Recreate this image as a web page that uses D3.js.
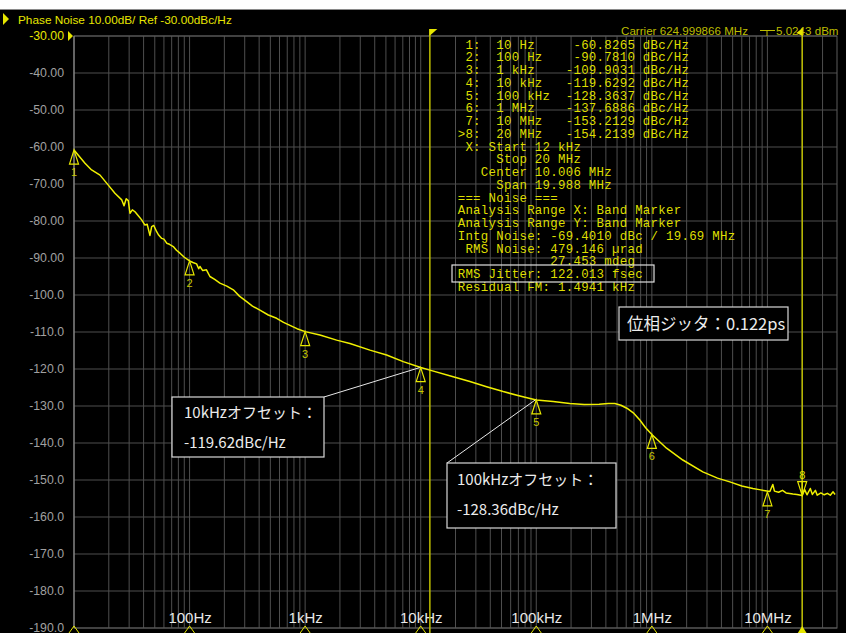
<!DOCTYPE html>
<html>
<head>
<meta charset="utf-8">
<script src="https://cdn.jsdelivr.net/npm/d3@7"></script>
<style>
  html, body { margin: 0; padding: 0; background: #000; overflow: hidden; }
  svg { display: block; }
  .mono { font-family: "Liberation Mono", "DejaVu Sans Mono", monospace; font-size: 12.4px; letter-spacing: 0.28px; white-space: pre; }
  .ui { font-family: "Liberation Sans", Arial, sans-serif; }
  .jp { font-family: "Noto Sans CJK JP", sans-serif; }
</style>
</head>
<body>
<div id="chart"></div>
<script>
// ---- trace (offset Hz, dBc/Hz) ----
const traceFreq = [
  10, 12.45, 14.2, 16.8, 19.8, 22.6, 25.9, 27.1, 28.3, 29.5, 30.5, 32, 33.7, 36, 38.5,
  41.1, 43, 45.4, 47, 49, 51.9, 54, 57.4, 60, 63.4, 67, 72.3, 77, 82.6, 90,
  100, 107, 115, 120, 123, 130, 140, 150, 165, 183, 210, 239, 270, 312, 350, 406,
  480, 567, 650, 739, 850, 1000, 1343, 1873, 2441, 3636, 5070, 7058, 10000, 12012,
  19100, 26650, 37150, 51700, 72100, 100000, 140000, 195000, 260000, 350000, 420000,
  478600, 540000, 608000, 700000, 787000, 880000, 1000000, 1340000, 1854000, 2760000,
  3700000, 4730000, 6000000, 7480000, 8500000, 9890000, 10500000, 11130000, 11500000,
  12500000, 13500000, 14500000, 16600000, 18000000, 20000000, 21000000, 22000000,
  23500000, 24500000, 26000000, 27000000, 29000000, 31000000, 33000000, 35000000,
  37000000, 38500000
];
const traceDb = [
  -60.8, -64.4, -66.2, -67.6, -70.3, -72.5, -74.3, -75.9, -74.0, -74.5, -77.9, -77.0, -77.5, -78.6, -79.7,
  -81.1, -80.9, -83.9, -81.5, -81.2, -82.9, -83.8, -84.7, -84.9, -86.0, -86.3, -86.9, -87.9, -88.7, -89.8,
  -90.8, -91.2, -91.6, -92.9, -92.3, -93.4, -93.2, -95.0, -95.8, -96.8, -97.6, -98.6, -100.3, -101.8, -103.0, -104.1,
  -105.4, -106.3, -107.4, -108.2, -109.1, -109.9, -110.8, -112.2, -113.1, -114.9, -116.2, -118.0, -119.6, -120.3,
  -122.1, -123.4, -124.8, -126.1, -127.3, -128.4, -128.8, -129.3, -129.6, -129.5, -129.3,
  -129.3, -129.8, -130.6, -132.0, -133.8, -135.8, -137.7, -141.4, -144.6, -147.8,
  -149.5, -150.5, -151.6, -152.3, -152.6, -153.0, -153.1, -151.2, -153.0,
  -153.3, -152.8, -153.5, -153.8, -153.9, -154.2, -152.6, -154.0,
  -152.3, -153.9, -152.8, -154.1, -153.5, -154.0, -153.6, -154.1,
  -153.2, -153.9
];

// ---- markers ----
const markerIds = ["1", "2", "3", "4", "5", "6", "7", "8"];
const markerFreq = [10, 100, 1e3, 1e4, 1e5, 1e6, 1e7, 2e7];
const markerDb = [-60.8265, -90.7810, -109.9031, -119.6292, -128.3637, -137.6886, -153.2129, -154.2139];
const markerFreqText = ["10 Hz", "100 Hz", "1 kHz", "10 kHz", "100 kHz", "1 MHz", "10 MHz", "20 MHz"];
const markerDbText = ["-60.8265", "-90.7810", "-109.9031", "-119.6292", "-128.3637", "-137.6886", "-153.2129", "-154.2139"];
const activeMarker = "8";
const bandStart = 12e3;
const bandStop = 20e6;

// ---- axes ----
const yTicks = [-30, -40, -50, -60, -70, -80, -90, -100, -110, -120, -130, -140, -150, -160, -170, -180, -190];
const yTickLabels = ["-30.00", "-40.00", "-50.00", "-60.00", "-70.00", "-80.00", "-90.00", "-100.0", "-110.0",
  "-120.0", "-130.0", "-140.0", "-150.0", "-160.0", "-170.0", "-180.0", "-190.0"];
const xTicks = [100, 1e3, 1e4, 1e5, 1e6, 1e7];
const xTickLabels = ["100Hz", "1kHz", "10kHz", "100kHz", "1MHz", "10MHz"];

const infoTail = [
  " X: Start 12 kHz",
  "     Stop 20 MHz",
  "   Center 10.006 MHz",
  "     Span 19.988 MHz",
  "=== Noise ===",
  "Analysis Range X: Band Marker",
  "Analysis Range Y: Band Marker",
  "Intg Noise: -69.4010 dBc / 19.69 MHz",
  " RMS Noise: 479.146 \u00b5rad",
  "            27.453 mdeg",
  "RMS Jitter: 122.013 fsec",
  "Residual FM: 1.4941 kHz"
];

const W = 846, H = 633;
const PL = 74, PR = 837, PT = 36, PB = 628;
const YEL = "#e6e600", YEL_DIM = "#bdbd00", GRID = "#4e4e4e";

const svg = d3.select("#chart").append("svg").attr("width", W).attr("height", H);
svg.append("rect").attr("width", W).attr("height", H).attr("fill", "#000");
// window strip at top
svg.append("rect").attr("width", W).attr("height", 9).attr("fill", "#fff");
svg.append("line").attr("x1", 0).attr("x2", W).attr("y1", 9.5).attr("y2", 9.5).attr("stroke", "#8a8a8a");

const x = d3.scaleLog().domain([10, 4e7]).range([PL, PR]);
const y = d3.scaleLinear().domain([-30, -190]).range([PT, PB]);

// grid
const gridFreqs = [];
for (let e = 1; e <= 7; e++) for (let k = 1; k <= 9; k++) {
  const f = k * Math.pow(10, e);
  if (f > 10 && f < 4e7) gridFreqs.push(f);
}
const grid = svg.append("g");
grid.selectAll("line.v").data(gridFreqs).join("line")
  .attr("x1", d => x(d)).attr("x2", d => x(d)).attr("y1", PT).attr("y2", PB)
  .attr("stroke", GRID).attr("stroke-width", 1);
grid.selectAll("line.h").data(yTicks).join("line")
  .attr("x1", PL).attr("x2", PR).attr("y1", d => y(d)).attr("y2", d => y(d))
  .attr("stroke", GRID).attr("stroke-width", 1);
svg.append("rect").attr("x", PL).attr("y", PT).attr("width", PR - PL).attr("height", PB - PT)
  .attr("fill", "none").attr("stroke", "#5c5c5c");
svg.append("line").attr("x1", PL).attr("x2", PL).attr("y1", PT).attr("y2", PB).attr("stroke", "#9a9a9a");

// y axis labels
const yAxis = svg.append("g").attr("transform", `translate(${PL},0)`)
  .call(d3.axisLeft(y).tickValues(yTicks).tickSize(0).tickPadding(10)
    .tickFormat((d, i) => yTickLabels[i]));
yAxis.select(".domain").remove();
yAxis.selectAll("text").attr("class", "ui").style("font-size", "12.3px")
  .attr("fill", (d, i) => i === 0 ? YEL : "#a0a0a0");
svg.append("path").attr("d", `M${PL - 6},${PT - 5}L${PL - 1},${PT}L${PL - 6},${PT + 5}Z`).attr("fill", YEL);

// x axis labels (inside the graticule)
const xAxis = svg.append("g").attr("transform", `translate(0,${PB})`)
  .call(d3.axisTop(x).tickValues(xTicks).tickSize(0).tickPadding(5)
    .tickFormat((d, i) => xTickLabels[i]));
xAxis.select(".domain").remove();
xAxis.selectAll("text").attr("class", "ui").style("font-size", "15px").attr("fill", "#e8e8e8");

// title
svg.append("path").attr("d", "M3,13L9,19L3,25Z").attr("fill", YEL);
svg.append("text").attr("class", "ui").attr("x", 18).attr("y", 24).style("font-size", "11.8px")
  .attr("fill", YEL).text("Phase Noise 10.00dB/ Ref -30.00dBc/Hz");

// carrier readout
svg.append("text").attr("class", "ui").attr("x", 748).attr("y", 35).attr("text-anchor", "end")
  .style("font-size", "11.6px").attr("fill", YEL_DIM).text("Carrier 624.999866 MHz");
svg.append("path").attr("d", "M760,30.5H775M767,30.5V36").attr("stroke", YEL_DIM).attr("fill", "none");
svg.append("text").attr("class", "ui").attr("x", 776).attr("y", 35)
  .style("font-size", "11.6px").attr("fill", YEL_DIM).text("5.0243 dBm");

// band marker lines
svg.append("line").attr("x1", x(bandStart)).attr("x2", x(bandStart)).attr("y1", 29).attr("y2", H)
  .attr("stroke", YEL_DIM).attr("stroke-width", 1.5);
svg.append("path").attr("d", `M${x(bandStart) - 0.5},29H${x(bandStart) + 7.5}L${x(bandStart) - 0.5},36Z`).attr("fill", YEL);
svg.append("line").attr("x1", x(bandStop)).attr("x2", x(bandStop)).attr("y1", 28).attr("y2", H)
  .attr("stroke", YEL_DIM).attr("stroke-width", 1.5);
svg.append("path").attr("d", `M${x(bandStop) + 0.5},28L${x(bandStop) - 6},33L${x(bandStop) + 0.5},36Z`).attr("fill", YEL);

// trace
svg.append("clipPath").attr("id", "plotclip").append("rect")
  .attr("x", PL).attr("y", PT).attr("width", PR - PL).attr("height", PB - PT);
const trace = traceFreq.map((f, i) => [f, traceDb[i]]);
svg.append("path").datum(trace).attr("clip-path", "url(#plotclip)")
  .attr("fill", "none").attr("stroke", "#f0f000").attr("stroke-width", 1.5)
  .attr("stroke-linejoin", "round")
  .attr("d", d3.line().x(d => x(d[0])).y(d => y(d[1])));

// marker symbols on the trace
const markers = markerIds.map((id, i) => ({ id, f: markerFreq[i], v: markerDb[i] }));
const mk = svg.append("g");
markers.forEach(m => {
  const px = x(m.f), py = y(m.v);
  if (m.id === activeMarker) {
    mk.append("path").attr("d", `M${px},${py}L${px - 4.5},${py - 14}H${px + 4.5}Z M${px},${py - 14}V${py}`)
      .attr("fill", "none").attr("stroke", YEL).attr("stroke-width", 1.2);
    mk.append("text").attr("class", "ui").attr("x", px).attr("y", py - 17).attr("text-anchor", "middle")
      .style("font-size", "11px").attr("fill", YEL).text(m.id);
  } else {
    mk.append("path").attr("d", `M${px},${py}L${px - 4.5},${py + 14}H${px + 4.5}Z`)
      .attr("fill", "none").attr("stroke", YEL).attr("stroke-width", 1.2);
    mk.append("text").attr("class", "ui").attr("x", px).attr("y", py + 26).attr("text-anchor", "middle")
      .style("font-size", "11px").attr("fill", "#c8c800").text(m.id);
  }
  // small marker flags on the bottom edge
  const bx = x(m.f);
  if (m.id === activeMarker) {
    mk.append("path").attr("d", `M${bx},${PB - 2}L${bx - 5},${PB + 6}H${bx + 5}Z`).attr("fill", YEL);
  } else {
    mk.append("path").attr("d", `M${bx},${PB - 2}L${bx - 5},${PB + 5}L${bx},${PB + 10}L${bx + 5},${PB + 5}Z`)
      .attr("fill", "none").attr("stroke", YEL).attr("stroke-width", 1);
  }
});

// marker table + noise readout
const lineH = 12.75, infoX = 457.7, infoY = 48.5;
const infoLines = markers.map((m, i) =>
  (m.id === activeMarker ? ">" : " ") + m.id + ":  " + markerFreqText[i].padEnd(9) +
  markerDbText[i].padStart(9) + " dBc/Hz").concat(infoTail);
svg.append("g").selectAll("text").data(infoLines).join("text")
  .attr("class", "mono").attr("x", infoX).attr("y", (d, i) => infoY + i * lineH)
  .attr("fill", "#dede00").text(d => d);
svg.append("rect").attr("x", 452).attr("y", 265).attr("width", 202).attr("height", 17)
  .attr("fill", "none").attr("stroke", "#e0e0e0").attr("stroke-width", 1.2);

// callout boxes
function callout(bx, by, bw, bh, lines, size, lead) {
  const g = svg.append("g");
  if (lead) {
    g.append("line").attr("x1", lead[0]).attr("y1", lead[1]).attr("x2", lead[2]).attr("y2", lead[3])
      .attr("stroke", "#e8e8e8").attr("stroke-width", 1);
  }
  g.append("rect").attr("x", bx).attr("y", by).attr("width", bw).attr("height", bh)
    .attr("fill", "#000").attr("stroke", "#d8d8d8").attr("stroke-width", 1.2);
  lines.forEach((t, i) => {
    g.append("text").attr("class", "jp").attr("x", t.x).attr("y", t.y)
      .style("font-size", size + "px").attr("fill", "#ececec").text(t.s);
  });
}
callout(172, 397, 152, 60,
  [{ s: "10kHzオフセット：", x: 184, y: 418 }, { s: "-119.62dBc/Hz", x: 184, y: 448 }], 15,
  [324, 397, x(1e4) - 1, y(-119.62)]);
callout(447, 463, 169, 65,
  [{ s: "100kHzオフセット：", x: 457, y: 485 }, { s: "-128.36dBc/Hz", x: 457, y: 515 }], 15,
  [447, 463, x(1e5) - 1, y(-128.36)]);
callout(619, 307, 169, 33,
  [{ s: "位相ジッタ：0.122ps", x: 627, y: 330 }], 16.5, null);
</script>
</body>
</html>
